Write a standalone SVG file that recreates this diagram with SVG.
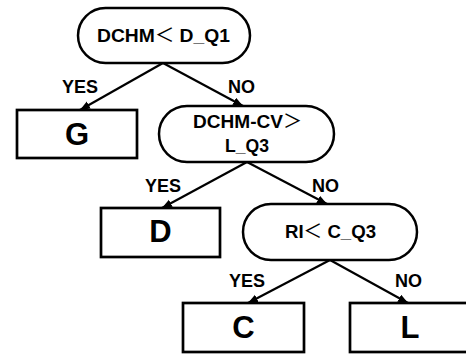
<svg xmlns="http://www.w3.org/2000/svg" width="466" height="356" viewBox="0 0 466 356">
<defs>
<style>
.dec{fill:#fff;stroke:#000;stroke-width:2.5}
.leaf{fill:#fff;stroke:#000;stroke-width:2.7}
.t{font-family:"Liberation Sans","Noto Sans CJK JP",sans-serif;font-weight:bold;font-size:19px;fill:#000}
.cj{font-family:"Noto Sans CJK JP",sans-serif;font-weight:normal}
.big{font-family:"Liberation Sans",sans-serif;font-weight:bold;font-size:31px;fill:#000;text-anchor:middle}
.lbl{font-family:"Liberation Sans",sans-serif;font-weight:bold;font-size:18px;fill:#000}
.c{stroke:#000;stroke-width:2.2;fill:none;marker-end:url(#ah)}
</style>
<marker id="ah" markerUnits="userSpaceOnUse" markerWidth="11" markerHeight="9" refX="10" refY="4" orient="auto">
<path d="M0,0 L10,4 L0,8 z" fill="#000"/>
</marker>
</defs>
<g id="connectors">
<line class="c" x1="163" y1="63" x2="80" y2="110"/>
<line class="c" x1="163" y1="63" x2="243" y2="106"/>
<line class="c" x1="247" y1="162" x2="162" y2="208"/>
<line class="c" x1="247" y1="162" x2="327" y2="204"/>
<line class="c" x1="330" y1="260" x2="248" y2="303"/>
<line class="c" x1="330" y1="260" x2="408" y2="303"/>
<text class="lbl" x="62" y="93">YES</text>
<text class="lbl" x="228" y="93">NO</text>
<text class="lbl" x="145" y="192">YES</text>
<text class="lbl" x="312" y="192">NO</text>
<text class="lbl" x="229" y="287">YES</text>
<text class="lbl" x="395" y="287">NO</text>
</g>
<g id="n1">
<rect class="dec" x="78" y="8" width="172" height="55" rx="27.5"/>
<text class="t" x="97" y="42" textLength="133" lengthAdjust="spacingAndGlyphs">DCHM<tspan class="cj">＜</tspan> D_Q1</text>
</g>
<g id="n2">
<rect class="leaf" x="17" y="110" width="120" height="48"/>
<text class="big" x="77" y="145">G</text>
</g>
<g id="n3">
<rect class="dec" x="159" y="106" width="175" height="56" rx="28"/>
<text class="t" x="193" y="128" textLength="109" lengthAdjust="spacingAndGlyphs">DCHM-CV<tspan class="cj">＞</tspan></text>
<text class="t" x="225" y="152" textLength="44" lengthAdjust="spacingAndGlyphs">L_Q3</text>
</g>
<g id="n4">
<rect class="leaf" x="101" y="208" width="119" height="49"/>
<text class="big" x="160.5" y="242">D</text>
</g>
<g id="n5">
<rect class="dec" x="243" y="204" width="174" height="56" rx="28"/>
<text class="t" x="285" y="238" textLength="91" lengthAdjust="spacingAndGlyphs">RI<tspan class="cj">＜</tspan> C_Q3</text>
</g>
<g id="n6">
<rect class="leaf" x="183" y="303" width="121" height="49"/>
<text class="big" x="243.5" y="338">C</text>
</g>
<g id="n7">
<rect class="leaf" x="350" y="303" width="122" height="49"/>
<text class="big" x="410" y="338">L</text>
</g>
</svg>
